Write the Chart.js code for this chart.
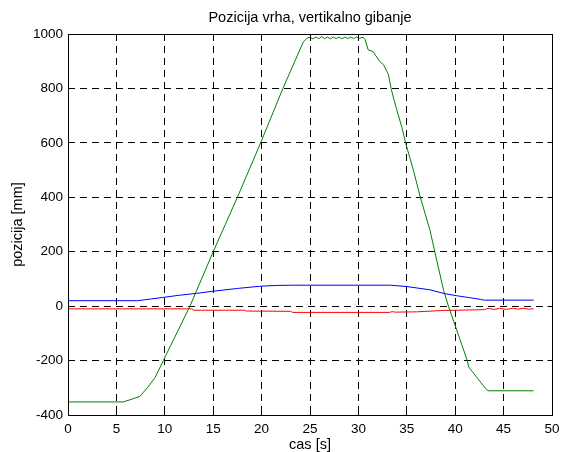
<!DOCTYPE html>
<html>
<head>
<meta charset="utf-8">
<script src="https://cdn.jsdelivr.net/npm/chart.js@4/dist/chart.umd.min.js"></script>
<style>
  html, body { margin: 0; padding: 0; background: #fff; }
  #wrap { width: 561px; height: 452px; }
</style>
</head>
<body>
<div id="wrap"><canvas id="chart" width="561" height="452"></canvas></div>
<script>
// axis ticks
const xTicks = [0, 5, 10, 15, 20, 25, 30, 35, 40, 45, 50];
const yTicks = [-400, -200, 0, 200, 400, 600, 800, 1000];

// blue series
const blueT = [0, 7.2, 8.5, 9.8, 11.5, 13.3, 15, 17.5, 19.8, 21.5, 23.3, 25, 33.3, 35, 37.4, 38.9, 40.2, 41.5, 42.6, 43, 48.1];
const blueY = [20, 20, 26, 32, 40, 47, 55, 65, 73, 76, 77, 77, 77, 72, 60, 46, 38, 31, 25, 22, 22];

// green series
const greenT = [0, 5.7, 6.5, 7.4, 8.2, 9.0, 9.85, 10.6, 11.5, 12.6, 15.0, 17.5, 19.9, 22.2, 24.3, 24.7,
  25.0, 25.3, 25.6, 25.9, 26.2, 26.5, 26.8, 27.1, 27.4, 27.7, 28.0, 28.3, 28.6, 28.9, 29.2, 29.5, 29.8, 30.1, 30.5,
  30.7, 31.0, 31.5, 32.2, 32.6, 33.1, 33.4, 33.9, 34.5, 34.9, 35.7, 36.4, 37.4, 37.9, 38.8, 39.3,
  41.25, 41.4, 42.3, 43.1, 43.4, 48.1];
const greenY = [-352, -352, -343, -332, -300, -262, -200, -145, -80, 0, 200, 400, 600, 800, 970, 985,
  988, 982, 989, 983, 990, 983, 989, 982, 989, 983, 989, 982, 989, 983, 989, 983, 989, 984, 988,
  979, 942, 936, 899, 887, 851, 796, 729, 656, 597, 497, 400, 278, 199, 58, 0,
  -200, -224, -265, -301, -311, -311];

// red series
const redT = [0, 12.8, 13, 18.2, 18.4, 23, 23.2, 33.2, 33.5, 33.8, 36, 38.7, 40, 43, 43.4, 44, 44.6, 45.3, 45.9, 46.5, 47.1, 47.6, 48.1];
const redY = [-10, -10, -15, -15, -18, -19, -23, -23, -20, -22, -21, -16, -15, -13, -8, -12, -8, -12, -8, -11, -8, -11, -10];

const FONT = "'Liberation Sans', Arial, Helvetica, sans-serif";
const TICK_FONT = { family: FONT, size: 13.5 };
const LABEL_FONT = { family: FONT, size: 14.5, lineHeight: 0.9 };

function pairs(ts, ys) {
  return ts.map((t, i) => ({ x: t, y: ys[i] }));
}

// same rounding chart.js uses for 1px grid lines
const crisp = (p) => Math.round(p - 0.5) + 0.5;

// box around the plot + inward tick marks, matlab style
const frame = {
  id: "frame",
  afterLayout(chart) {
    // center the title over the plot area, not the canvas
    if (chart.titleBlock) {
      chart.titleBlock.left = chart.chartArea.left;
      chart.titleBlock.right = chart.chartArea.right;
    }
  },
  afterDraw(chart) {
    const { ctx, chartArea: a, scales } = chart;
    const len = 5;
    const L = crisp(a.left), R = crisp(a.right), T = crisp(a.top), B = crisp(a.bottom);
    ctx.save();
    ctx.strokeStyle = "#000";
    ctx.lineWidth = 1;
    ctx.beginPath();
    scales.x.ticks.forEach((t) => {
      const px = crisp(scales.x.getPixelForValue(t.value));
      ctx.moveTo(px, B);
      ctx.lineTo(px, B - len);
      ctx.moveTo(px, T);
      ctx.lineTo(px, T + len);
    });
    scales.y.ticks.forEach((t) => {
      const py = crisp(scales.y.getPixelForValue(t.value));
      ctx.moveTo(L, py);
      ctx.lineTo(L + len, py);
      ctx.moveTo(R, py);
      ctx.lineTo(R - len, py);
    });
    ctx.stroke();
    ctx.strokeRect(L, T, R - L, B - T);
    ctx.restore();
  },
};

const line = (data, color) => ({
  data,
  borderColor: color,
  borderWidth: 1,
  pointRadius: 0,
  tension: 0,
  fill: false,
});

new Chart(document.getElementById("chart"), {
  type: "line",
  data: {
    datasets: [
      line(pairs(blueT, blueY), "#0000ff"),
      line(pairs(greenT, greenY), "#008000"),
      line(pairs(redT, redY), "#ff0000"),
    ],
  },
  options: {
    responsive: false,
    animation: false,
    layout: { padding: { left: 0, right: 9, top: 0, bottom: 0 } },
    plugins: {
      legend: { display: false },
      tooltip: { enabled: false },
      title: {
        display: true,
        text: "Pozicija vrha, vertikalno gibanje",
        color: "#000",
        font: { family: FONT, size: 14.5, weight: "normal", lineHeight: 1.2 },
        padding: { top: 9.3, bottom: 7.3 },
      },
    },
    scales: {
      x: {
        type: "linear",
        min: 0,
        max: 50,
        afterBuildTicks: (s) => { s.ticks = xTicks.map((v) => ({ value: v })); },
        afterFit: (s) => {
          s.height = 37;
          s.paddingLeft = 0;
          s.paddingRight = 0;
        },
        ticks: { color: "#000", padding: 6.5, maxRotation: 0, font: TICK_FONT, callback: (v) => String(v) },
        grid: { color: "#000", lineWidth: 1, drawTicks: false },
        border: { display: false, dash: [7, 5] },
        title: {
          display: true,
          text: "cas [s]",
          color: "#000",
          font: LABEL_FONT,
          padding: { top: 0, bottom: 0 },
        },
      },
      y: {
        type: "linear",
        min: -400,
        max: 1000,
        afterBuildTicks: (s) => { s.ticks = yTicks.map((v) => ({ value: v })); },
        afterFit: (s) => {
          s.width = 68;
          s.paddingTop = 0;
          s.paddingBottom = 0;
        },
        ticks: { color: "#000", padding: 5, font: TICK_FONT, callback: (v) => String(v) },
        grid: { color: "#000", lineWidth: 1, drawTicks: false },
        border: { display: false, dash: [7, 5] },
        title: {
          display: true,
          text: "pozicija [mm]",
          color: "#000",
          font: LABEL_FONT,
          padding: { top: 11.5, bottom: 0 },
        },
      },
    },
  },
  plugins: [frame],
});
</script>
</body>
</html>
